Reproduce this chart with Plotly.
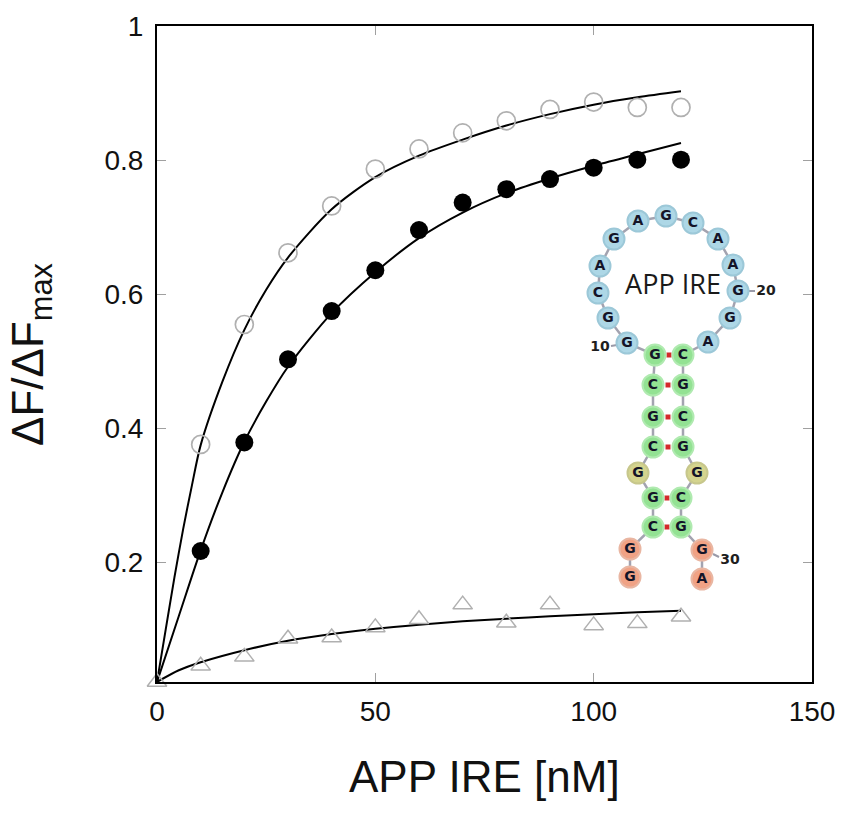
import plotly.graph_objects as go

# ---------------- data ----------------
conc = [10, 20, 30, 40, 50, 60, 70, 80, 90, 100, 110, 120]
open_y = [0.376, 0.555, 0.662, 0.732, 0.787, 0.817, 0.841, 0.859, 0.876, 0.887, 0.879, 0.879]
filled_y = [0.217, 0.379, 0.503, 0.575, 0.636, 0.696, 0.737, 0.757, 0.772, 0.789, 0.801, 0.801]
tri_x = [0, 10, 20, 30, 40, 50, 60, 70, 80, 90, 100, 110, 120]
tri_y = [0.0215, 0.0456, 0.059, 0.086, 0.088, 0.103, 0.115, 0.137, 0.110, 0.137, 0.106, 0.109, 0.119]

open_fit_x = [0, 2, 4, 6, 8, 10, 15, 20, 25, 30, 40, 50, 60, 70, 80, 90, 100, 110, 120]
open_fit_y = [0.0215, 0.10, 0.178, 0.25, 0.315, 0.375, 0.47, 0.547, 0.607, 0.655, 0.727, 0.775,
              0.807, 0.831, 0.852, 0.869, 0.883, 0.894, 0.903]
filled_fit_x = [0, 5, 10, 15, 20, 25, 30, 40, 50, 60, 70, 80, 90, 100, 110, 120]
filled_fit_y = [0.0215, 0.12, 0.218, 0.305, 0.38, 0.44, 0.492, 0.572, 0.633, 0.684, 0.722, 0.751,
                0.773, 0.792, 0.809, 0.826]
tri_fit_x = [0, 5, 10, 20, 30, 40, 50, 60, 70, 80, 90, 100, 110, 120]
tri_fit_y = [0.0215, 0.039, 0.051, 0.069, 0.083, 0.093, 0.101, 0.107, 0.112, 0.116, 0.1195,
             0.1225, 0.1255, 0.128]

x_ticks = [0, 50, 100, 150]
y_ticks = [0.2, 0.4, 0.6, 0.8, 1.0]
y_ticktext = ["0.2", "0.4", "0.6", "0.8", "1"]

# APP IRE secondary structure (5'->3')
sequence = list("GGCGGCGCGGGCAGAGCAAGGACGCGGCGGA")
region = (["tail"] * 2 + ["stem"] * 2 + ["bulge"] + ["stem"] * 4 + ["loop"] * 13 +
          ["stem"] * 4 + ["bulge"] + ["stem"] * 2 + ["tail"] * 2)
pairs = [(3, 29), (4, 28), (6, 26), (7, 25), (8, 24), (9, 23)]
numbered = [10, 20, 30]

# ---------------- layout of the inset (pixel positions in the reference drawing) ----------------
REF_BOX = (157, 812, 26, 682)  # left, right, top, bottom of the plot frame in reference pixels
node_px = [(630, 577), (630, 549), (653, 527), (653, 498), (638, 473), (653, 447), (653, 417),
           (653, 385), (655, 355), (627, 343), (608, 318), (598, 293), (600, 266), (614, 239),
           (638, 221), (666, 216), (693, 223), (718, 239), (733, 265), (738, 291), (730, 318),
           (708, 342), (683, 355), (683, 385), (683, 417), (683, 447), (697, 473), (681, 498),
           (681, 527), (702, 550), (702, 579)]
label_px = {10: (600, 347), 20: (766, 291), 30: (730, 560)}
dash_px = {10: ((611, 346), (617, 345)), 20: ((749, 291), (755, 291)), 30: ((713, 554), (719, 557))}

fill_col = {"loop": "#add7e6", "stem": "#93e293", "bulge": "#d4d48e", "tail": "#f0a285"}
edge_col = {"loop": "#9cc8d8", "stem": "#b0eab0", "bulge": "#c7c78c", "tail": "#e9b6a2"}

FONT = "Liberation Sans, Arial, sans-serif"

fig = go.Figure()

# fitted curves
for fx, fy in [(open_fit_x, open_fit_y), (filled_fit_x, filled_fit_y), (tri_fit_x, tri_fit_y)]:
    fig.add_trace(go.Scatter(x=fx, y=fy, mode="lines",
                             line=dict(color="black", width=2, shape="spline", smoothing=0.8),
                             hoverinfo="skip", showlegend=False))

fig.add_trace(go.Scatter(x=conc, y=open_y, mode="markers", showlegend=False,
                         marker=dict(symbol="circle-open", size=18, color="#b0b0b0",
                                     line=dict(width=1.7, color="#b0b0b0"))))
fig.add_trace(go.Scatter(x=conc, y=filled_y, mode="markers", showlegend=False,
                         marker=dict(symbol="circle", size=18, color="black")))
fig.add_trace(go.Scatter(x=tri_x, y=tri_y, mode="markers", showlegend=False, cliponaxis=False,
                         marker=dict(symbol="triangle-up-open", size=17, color="#b0b0b0",
                                     line=dict(width=1.5, color="#b0b0b0"))))

# ---------------- inset drawn on an overlay pixel axis ----------------
nx = [p[0] for p in node_px]
ny = [p[1] for p in node_px]
fig.add_trace(go.Scatter(x=nx, y=ny, xaxis="x2", yaxis="y2", mode="lines",
                         line=dict(color="#a3a3b0", width=2.5), hoverinfo="skip", showlegend=False))
bx = [(node_px[a - 1][0] + node_px[b - 1][0]) / 2 for a, b in pairs]
by = [(node_px[a - 1][1] + node_px[b - 1][1]) / 2 for a, b in pairs]
fig.add_trace(go.Scatter(x=bx, y=by, xaxis="x2", yaxis="y2", mode="markers",
                         marker=dict(symbol="square", size=5, color="#d42a2a"),
                         hoverinfo="skip", showlegend=False))
for n in numbered:
    (x0, y0), (x1, y1) = dash_px[n]
    fig.add_trace(go.Scatter(x=[x0, x1], y=[y0, y1], xaxis="x2", yaxis="y2", mode="lines",
                             line=dict(color="#9a9aa8", width=2), hoverinfo="skip", showlegend=False))
fig.add_trace(go.Scatter(x=nx, y=ny, xaxis="x2", yaxis="y2", mode="markers+text",
                         text=sequence, textposition="middle center",
                         textfont=dict(family="DejaVu Sans, Verdana, sans-serif", size=14,
                                       color="#141428", weight="bold"),
                         marker=dict(size=21, color=[fill_col[r] for r in region],
                                     line=dict(width=2, color=[edge_col[r] for r in region])),
                         hoverinfo="skip", showlegend=False))
fig.add_trace(go.Scatter(x=[label_px[n][0] for n in numbered], y=[label_px[n][1] for n in numbered],
                         xaxis="x2", yaxis="y2", mode="text", text=[str(n) for n in numbered],
                         textposition="middle center",
                         textfont=dict(family="DejaVu Sans, Verdana, sans-serif", size=14,
                                       color="#1e1e1e", weight="bold"),
                         hoverinfo="skip", showlegend=False))
fig.add_trace(go.Scatter(x=[673], y=[287], xaxis="x2", yaxis="y2", mode="text", text=["APP IRE"],
                         textposition="middle center",
                         textfont=dict(family="Open Sans, sans-serif", size=27, color="#1a1a1a"),
                         hoverinfo="skip", showlegend=False))

W, H = 851, 815
L = REF_BOX[0]
T = REF_BOX[2]
R = W - REF_BOX[1]
B = H - REF_BOX[3]
pw, ph = W - L - R, H - T - B

fig.update_layout(
    width=W, height=H,
    margin=dict(l=L, r=R, t=T, b=B, pad=0),
    paper_bgcolor="white", plot_bgcolor="white",
    font=dict(family=FONT, color="#111111"),
    xaxis=dict(range=[0, 150], tickvals=x_ticks, ticks="inside", ticklen=9, tickwidth=1,
               tickcolor="#a0a0a0", showline=True, linecolor="black", linewidth=2,
               mirror="ticks", showgrid=False, zeroline=False,
               tickfont=dict(family=FONT, size=28, color="#111111"), ticklabelstandoff=3),
    yaxis=dict(range=[0.0215, 1.0005], tickvals=y_ticks, ticktext=y_ticktext, ticks="inside",
               ticklen=9, tickwidth=1, tickcolor="#a0a0a0", showline=True, linecolor="black",
               linewidth=2, mirror="ticks", showgrid=False, zeroline=False,
               tickfont=dict(family=FONT, size=28, color="#111111"), ticklabelstandoff=6),
    xaxis2=dict(overlaying="x", range=[REF_BOX[0], REF_BOX[1]], visible=False, fixedrange=True),
    yaxis2=dict(overlaying="y", range=[REF_BOX[3], REF_BOX[2]], visible=False, fixedrange=True),
    annotations=[
        dict(text="APP IRE [nM]", xref="paper", yref="paper", x=0.5,
             y=(REF_BOX[3] - 776) / ph, xanchor="center", yanchor="middle", showarrow=False,
             font=dict(family=FONT, size=44, color="#111111")),
        dict(text="ΔF/ΔF<sub>max</sub>", xref="paper", yref="paper",
             x=(31 - REF_BOX[0]) / pw, y=0.5,
             xanchor="center", yanchor="middle", textangle=-90, showarrow=False,
             font=dict(family=FONT, size=44, color="#111111")),
    ],
)

# remove the browser's default 8px body margin so the figure fills the window exactly
fig.write_html("out.html", config={"displayModeBar": False},
               post_script="document.body.style.margin='0px';")
